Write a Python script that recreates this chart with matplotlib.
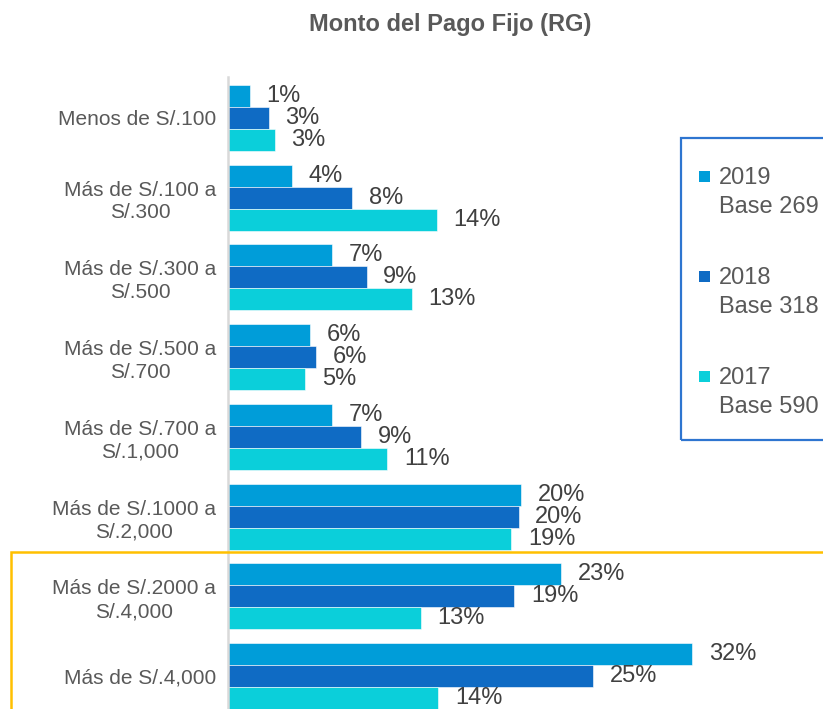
import matplotlib
matplotlib.use("Agg")
import matplotlib.pyplot as plt
from matplotlib.patches import Rectangle
from matplotlib.legend_handler import HandlerPatch
from matplotlib.container import BarContainer
import numpy as np

plt.rcParams['font.family'] = ['Liberation Sans', 'DejaVu Sans']

categories = [
    "Menos de S/.100",
    "Más de S/.100 a\nS/.300",
    "Más de S/.300 a\nS/.500",
    "Más de S/.500 a\nS/.700",
    "Más de S/.700 a\nS/.1,000",
    "Más de S/.1000 a\nS/.2,000",
    "Más de S/.2000 a\nS/.4,000",
    "Más de S/.4,000",
]
series_names = ["2019\nBase 269", "2018\nBase 318", "2017\nBase 590"]
values_2019 = [1.5, 4.4, 7.1, 5.6, 7.1, 20.1, 22.8, 31.8]
values_2018 = [2.8, 8.5, 9.5, 6.0, 9.1, 19.9, 19.6, 25.0]
values_2017 = [3.2, 14.3, 12.6, 5.3, 10.9, 19.4, 13.2, 14.4]
labels_2019 = ["1%", "4%", "7%", "6%", "7%", "20%", "23%", "32%"]
labels_2018 = ["3%", "8%", "9%", "6%", "9%", "20%", "19%", "25%"]
labels_2017 = ["3%", "14%", "13%", "5%", "11%", "19%", "13%", "14%"]

colors = ["#009DD9", "#0F6BC4", "#0BCFDA"]
W, H = 823, 709
fig = plt.figure(figsize=(W / 100, H / 100), dpi=100)
ax = fig.add_axes([228 / W, 0, 1 - 228 / W, 1 - 77 / H])

y = np.arange(len(categories))
h = 0.276
all_vals = [values_2019, values_2018, values_2017]
all_labels = [labels_2019, labels_2018, labels_2017]
containers = []
for k, (vals, labs) in enumerate(zip(all_vals, all_labels)):
    c = ax.barh(y + (k - 1) * h, vals, height=h, color=colors[k],
                edgecolor="white", linewidth=0.4, label=series_names[k])
    ax.bar_label(c, labels=labs, padding=12, fontsize=17, color="#404040")
    containers.append(c)

ax.set_ylim(7.414, -0.514)
ax.set_xlim(0, (W - 228) / 14.6)
ax.set_yticks(y)
ax.set_yticklabels(categories, fontsize=15, color="#595959", multialignment="center",
                   linespacing=1.25)
ax.tick_params(axis="y", length=0, pad=8.5)
ax.set_xticks([])
for s in ["top", "right", "bottom"]:
    ax.spines[s].set_visible(False)
ax.spines["left"].set_color("#D9D9D9")
ax.spines["left"].set_linewidth(1.8)

fig.text(450 / W, 1 - 25 / H, "Monto del Pago Fijo (RG)", ha="center", va="center",
         fontsize=17, fontweight="bold", color="#595959")


def square(legend, orig_handle, xdescent, ydescent, width, height, fontsize):
    s = 7.8
    return Rectangle((-xdescent + (width - s) / 2, -ydescent + 13.6), s, s)


def copy_props(legend_handle, orig_handle):
    legend_handle.set_facecolor(orig_handle.patches[0].get_facecolor())
    legend_handle.set_edgecolor("none")


leg = fig.legend(handles=containers, labels=series_names, loc="upper left",
                 bbox_to_anchor=(699 / W, 1 - 167 / H), frameon=False,
                 fontsize=17, labelcolor="#595959", borderpad=0, borderaxespad=0,
                 handlelength=0.5, handletextpad=0.35, labelspacing=2.09,
                 handler_map={BarContainer: HandlerPatch(patch_func=square,
                                                         update_func=copy_props)})
for t in leg.get_texts():
    t.set_linespacing(1.4)

# legend frame (blue) and highlight frame (orange)
fig.patches.append(Rectangle((681 / W, 1 - 440 / H), 0.3, (440 - 138) / H,
                             transform=fig.transFigure, fill=False,
                             edgecolor="#2E75D0", linewidth=1.6))
fig.patches.append(Rectangle((10.5 / W, -0.1), 1.0, 0.1 + (709 - 552) / H,
                             transform=fig.transFigure, fill=False,
                             edgecolor="#FFC000", linewidth=1.8))

fig.savefig("out.png", dpi=100)
